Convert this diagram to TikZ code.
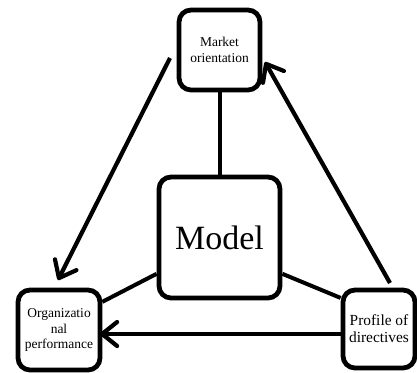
\documentclass[tikz,border=0pt]{standalone}
\usepackage{fontspec}
\setmainfont{Liberation Serif}
\usetikzlibrary{arrows.meta}
\begin{document}
\begin{tikzpicture}[x=1bp,y=-1bp,
  box/.style={draw, line width=4.8bp, rounded corners=12bp, fill=white, align=center, inner sep=0pt},
  small/.style={font=\fontsize{13.5bp}{15.7bp}\selectfont},
  conn/.style={line width=4bp},
  arr/.style={line width=4.2bp, -{Straight Barb[length=15bp,width=24bp,round]}}]
\useasboundingbox (0,0) rectangle (417,373);
\node[box, small, minimum width=81bp, minimum height=80bp] (top) at (219.5,50) {Market\\orientation};
\node[box, minimum width=121bp, minimum height=121bp, font=\fontsize{34bp}{40bp}\selectfont] (model) at (219.5,237.5) {Model};
\node[box, small, minimum width=82bp, minimum height=80bp] (left) at (59,330) {Organizatio\\nal\\performance};
\node[box, minimum width=72bp, minimum height=78bp, font=\fontsize{15.4bp}{17bp}\selectfont] (right) at (379,329) {Profile of\\directives};
\draw[conn] (top.south) -- (model.north);
\draw[conn] (model.210) -- (left.33);
\draw[conn] (model.330) -- (right.141);
\coordinate (a1s) at (170,58);
\coordinate (a1e) at (58,280);
\coordinate (a2s) at (390,283);
\coordinate (a2e) at (265,62);
\coordinate (a3s) at (343,334);
\coordinate (a3e) at (100,334);
\draw[arr] (a1s) -- (a1e);
\draw[arr] (a2s) -- (a2e);
\draw[arr] (a3s) -- (a3e);
\end{tikzpicture}
\end{document}
